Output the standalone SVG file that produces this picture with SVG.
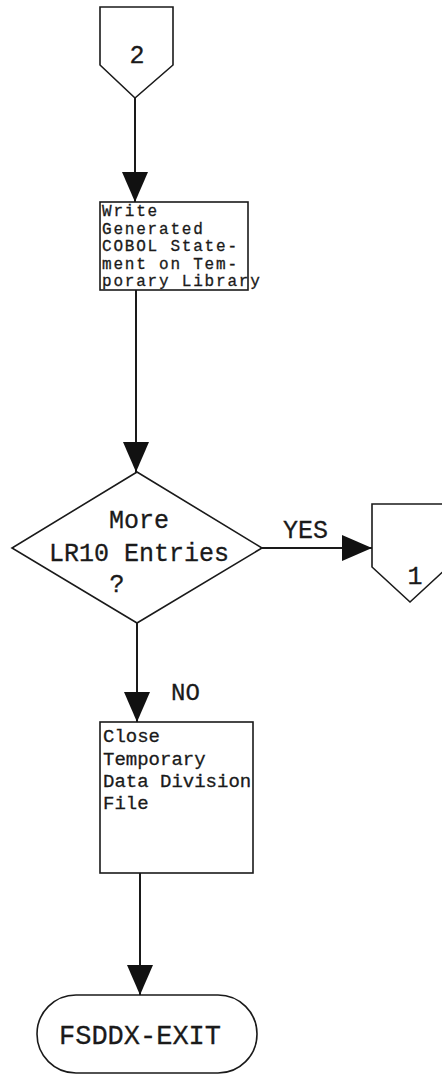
<svg xmlns="http://www.w3.org/2000/svg" width="442" height="1077" viewBox="0 0 442 1077">
  <style>
    .shape { fill: #ffffff; stroke: #1a1a1a; stroke-width: 1.6; }
    .flow { fill: none; stroke: #1a1a1a; stroke-width: 2; }
    .txt { font-family: "Liberation Mono", "Courier New", monospace; fill: #1a1a1a; stroke: #1a1a1a; stroke-width: 0.3; }
    .box { font-size: 19px; }
    .tight { font-size: 16px; letter-spacing: 1.8px; }
    .big { font-size: 25px; }
  </style>
  <defs>
    <marker id="arrow" viewBox="0 0 30 26" refX="30" refY="13" markerWidth="30" markerHeight="26" markerUnits="userSpaceOnUse" orient="auto">
      <path d="M0,0 L30,13 L0,26 Z" fill="#111111"/>
    </marker>
  </defs>
  <rect width="442" height="1077" fill="#ffffff"/>

  <!-- connectors -->
  <g id="connectors">
    <line class="flow" x1="135" y1="98" x2="135" y2="202" marker-end="url(#arrow)"/>
    <line class="flow" x1="136" y1="290" x2="136" y2="472" marker-end="url(#arrow)"/>
    <line class="flow" x1="262" y1="548" x2="372" y2="548" marker-end="url(#arrow)"/>
    <line class="flow" x1="137" y1="623" x2="137" y2="722" marker-end="url(#arrow)"/>
    <line class="flow" x1="140" y1="873" x2="140" y2="995" marker-end="url(#arrow)"/>
    <text class="txt big" x="283" y="538">YES</text>
    <text class="txt" style="font-size:24px" x="171" y="700">NO</text>
  </g>

  <!-- off-page connector 2 -->
  <g id="offpage-2">
    <polygon class="shape" points="100,7 173,7 173,65 135,98 100,65"/>
    <text class="txt big" x="137" y="63" text-anchor="middle">2</text>
  </g>

  <!-- write statement: five tightly set lines -->
  <g id="write-statement">
    <rect class="shape" x="100" y="202" width="148" height="88"/>
    <g class="txt tight">
      <text x="102" y="216">Write</text>
      <text x="102" y="233.5">Generated</text>
      <text x="102" y="251">COBOL State-</text>
      <text x="102" y="268.5">ment on Tem-</text>
      <text x="102" y="286">porary Library</text>
    </g>
  </g>

  <!-- decision -->
  <g id="more-entries">
    <polygon class="shape" points="137,472 262,548 137,623 12,548"/>
    <g class="txt big">
      <text x="139" y="528" text-anchor="middle">More</text>
      <text x="139" y="561" text-anchor="middle">LR10 Entries</text>
      <text x="117" y="592" text-anchor="middle">?</text>
    </g>
  </g>

  <!-- off-page connector 1 -->
  <g id="offpage-1">
    <polygon class="shape" points="372,504 448,504 448,567 410,602 372,567"/>
    <text class="txt big" x="415" y="584" text-anchor="middle">1</text>
  </g>

  <!-- close file -->
  <g id="close-file">
    <rect class="shape" x="100" y="722" width="153" height="151"/>
    <g class="txt box">
      <text x="103" y="742">Close</text>
      <text x="103" y="765">Temporary</text>
      <text x="103" y="787">Data Division</text>
      <text x="103" y="809">File</text>
    </g>
  </g>

  <!-- exit -->
  <g id="exit">
    <rect class="shape" x="37" y="995" width="220" height="78" rx="39" ry="39"/>
    <text class="txt" style="font-size:27px" x="140" y="1044" text-anchor="middle">FSDDX-EXIT</text>
  </g>
</svg>
